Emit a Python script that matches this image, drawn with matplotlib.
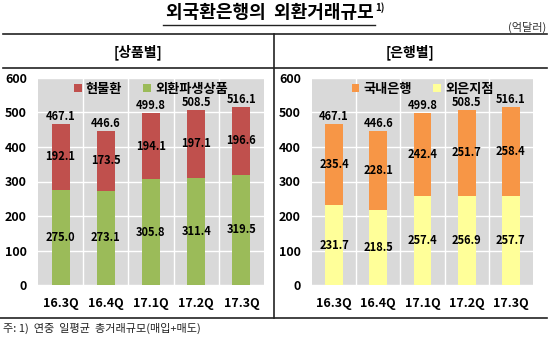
import numpy as np
import matplotlib
matplotlib.use('Agg')
import matplotlib.pyplot as plt
from matplotlib.lines import Line2D

plt.rcParams['font.family'] = ['Noto Sans CJK KR', 'DejaVu Sans']

periods = ['16.3Q', '16.4Q', '17.1Q', '17.2Q', '17.3Q']
totals = [467.1, 446.6, 499.8, 508.5, 516.1]
# by product
spot = [192.1, 173.5, 194.1, 197.1, 196.6]
deriv = [275.0, 273.1, 305.8, 311.4, 319.5]
# by bank type
domestic = [235.4, 228.1, 242.4, 251.7, 258.4]
foreign_br = [231.7, 218.5, 257.4, 256.9, 257.7]

W, H = 550, 338
fig = plt.figure(figsize=(5.5, 3.38), dpi=100)
fig.patch.set_facecolor('white')

def px(x0, y0, x1, y1):
    # pixel box (top-left origin) -> figure fraction rect
    return [x0 / W, 1 - y1 / H, (x1 - x0) / W, (y1 - y0) / H]

def hline(y, x0, x1, lw=1.2):
    fig.add_artist(Line2D([x0 / W, x1 / W], [1 - y / H, 1 - y / H],
                          color='#222222', lw=lw))

def vline(x, y0, y1, lw=1.2):
    fig.add_artist(Line2D([x / W, x / W], [1 - y0 / H, 1 - y1 / H],
                          color='#222222', lw=lw))

def panel(rect, bottom_vals, top_vals, bottom_col, top_col, bottom_lab, top_lab):
    ax = fig.add_axes(rect)
    x = np.arange(len(periods))
    bw = 0.4
    b1 = ax.bar(x, bottom_vals, bw, color=bottom_col, zorder=3, label=bottom_lab)
    b2 = ax.bar(x, top_vals, bw, bottom=bottom_vals, color=top_col, zorder=3, label=top_lab)
    ax.set_facecolor('#D9D9D9')
    ax.set_xlim(-0.5, len(periods) - 0.5)
    ax.set_ylim(0, 600)
    ax.set_yticks(range(0, 601, 100))
    ax.set_xticks(x)
    ax.set_xticklabels(periods, fontsize=9, fontweight='bold')
    for lab in ax.get_yticklabels():
        lab.set_fontweight('bold')
        lab.set_fontsize(9)
    ax.tick_params(length=0, pad=8)
    ax.tick_params(axis='x', pad=9)
    ax.grid(axis='y', color='white', lw=1.0, zorder=1)
    for b in np.arange(0.5, len(periods) - 0.5):
        ax.axvline(b, color='white', lw=1.0, zorder=1)
    for s in ax.spines.values():
        s.set_visible(False)
    for i in range(len(periods)):
        ax.text(x[i], bottom_vals[i] / 2, f'{bottom_vals[i]:.1f}', ha='center', va='center',
                fontsize=8, fontweight='bold', zorder=4)
        ax.text(x[i], bottom_vals[i] + top_vals[i] / 2, f'{top_vals[i]:.1f}', ha='center',
                va='center', fontsize=8, fontweight='bold', zorder=4)
        ax.text(x[i], totals[i] + 3, f'{totals[i]:.1f}', ha='center', va='bottom',
                fontsize=8, fontweight='bold', zorder=4)
    leg = ax.legend([b2, b1], [top_lab, bottom_lab], loc='upper center', ncol=2,
                    frameon=False, handlelength=0.6, handleheight=0.6, handletextpad=0.3,
                    columnspacing=1.6, bbox_to_anchor=(0.5, 1.0), borderaxespad=0.1,
                    borderpad=0.2,
                    prop={'weight': 'bold', 'size': 9.5,
                          'family': ['Noto Sans CJK KR', 'DejaVu Sans']})
    leg.set_zorder(5)
    return ax

panel(px(38, 78, 264, 285), deriv, spot, '#9BBB59', '#C0504D', '외환파생상품', '현물환')
panel(px(312, 78, 533, 285), foreign_br, domestic, '#FFFF99', '#F79646', '외은지점', '국내은행')

# title with underline
fig.text(270 / W, 1 - 13 / H, '외국환은행의  외환거래규모', ha='center', va='center',
         fontsize=13, fontweight='bold')
fig.text(375 / W, 1 - 8 / H, '1)', ha='left', va='center', fontsize=7, fontweight='bold')
hline(25, 163, 375, lw=1.0)
fig.text(546 / W, 1 - 27 / H, '(억달러)', ha='right', va='center', fontsize=8, color='#333333')

# table frame
hline(34, 3, 547)
hline(68, 3, 547)
hline(318, 0, 547)
vline(274, 34, 318)
fig.text(138 / W, 1 - 52 / H, '[상품별]', ha='center', va='center', fontsize=10, fontweight='bold')
fig.text(410 / W, 1 - 52 / H, '[은행별]', ha='center', va='center', fontsize=10, fontweight='bold')

fig.text(3 / W, 1 - 328 / H, '주: 1)  연중  일평균  총거래규모(매입+매도)', ha='left', va='center',
         fontsize=8, color='#222222')

fig.savefig('out.png', dpi=100)
